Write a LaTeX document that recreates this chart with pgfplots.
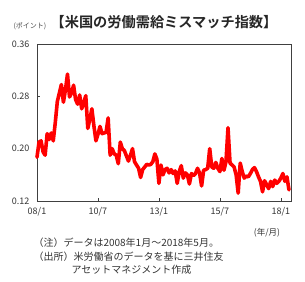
\documentclass[border=0pt]{standalone}
\usepackage{pgfplots}
\pgfplotsset{compat=1.18}
\usepackage{fontspec}
\setmainfont{Noto Sans CJK JP}
\newfontfamily\cjk{Noto Sans CJK JP}
\newfontfamily\cjkb{Noto Sans CJK JP Bold}
\begin{document}
\begin{tikzpicture}
\useasboundingbox (-37pt,-80pt) rectangle (268pt,201pt);
\begin{axis}[
  at={(0,0)}, anchor=south west,
  scale only axis, width=254pt, height=157pt,
  xmin=0, xmax=125, ymin=0.12, ymax=0.36,
  xtick={0,30,60,90,120},
  xticklabels={08/1,10/7,13/1,15/7,18/1},
  ytick={0.12,0.20,0.28,0.36},
  yticklabels={0.12,0.20,0.28,0.36},
  tick align=inside,
  xtick pos=bottom, ytick pos=left,
  major tick length=3pt,
  axis line style={draw=black!75, line width=0.8pt},
  tick style={draw=black!75, line width=0.6pt},
  tick label style={font=\fontsize{9}{10}\selectfont, text=black!80},
  /pgf/number format/assume math mode=true,
  yticklabel style={xshift=-4pt},
  xticklabel style={yshift=-3pt},
  clip=false,
]
\addplot[red, line width=3.6pt, line join=round, line cap=round] table[row sep=\\] {
x y\\
0 0.187\\ 1 0.210\\ 2 0.212\\ 3 0.195\\ 4 0.190\\ 5 0.223\\ 6 0.214\\ 7 0.224\\ 8 0.212\\ 9 0.240\\
10 0.272\\ 11 0.285\\ 12 0.298\\ 13 0.271\\ 14 0.290\\ 15 0.314\\ 16 0.279\\ 17 0.285\\ 18 0.297\\ 19 0.275\\
20 0.268\\ 21 0.282\\ 22 0.261\\ 23 0.270\\ 24 0.281\\ 25 0.231\\ 26 0.245\\ 27 0.261\\ 28 0.235\\ 29 0.212\\
30 0.222\\ 31 0.234\\ 32 0.223\\ 33 0.224\\ 34 0.225\\ 35 0.247\\ 36 0.190\\ 37 0.200\\ 38 0.192\\ 39 0.190\\
40 0.177\\ 41 0.210\\ 42 0.200\\ 43 0.197\\ 44 0.189\\ 45 0.181\\ 46 0.190\\ 47 0.200\\ 48 0.180\\ 49 0.175\\
50 0.170\\ 51 0.156\\ 52 0.168\\ 53 0.172\\ 54 0.176\\ 55 0.175\\ 56 0.176\\ 57 0.180\\ 58 0.192\\ 59 0.184\\
60 0.147\\ 61 0.175\\ 62 0.160\\ 63 0.168\\ 64 0.170\\ 65 0.163\\ 66 0.168\\ 67 0.162\\ 68 0.166\\ 69 0.147\\
70 0.165\\ 71 0.174\\ 72 0.155\\ 73 0.163\\ 74 0.160\\ 75 0.146\\ 76 0.162\\ 77 0.159\\ 78 0.162\\ 79 0.170\\
80 0.163\\ 81 0.143\\ 82 0.167\\ 83 0.168\\ 84 0.170\\ 85 0.200\\ 86 0.172\\ 87 0.170\\ 88 0.179\\ 89 0.170\\
90 0.165\\ 91 0.185\\ 92 0.167\\ 93 0.180\\ 94 0.232\\ 95 0.178\\ 96 0.175\\ 97 0.172\\ 98 0.160\\ 99 0.132\\
100 0.178\\ 101 0.165\\ 102 0.155\\ 103 0.158\\ 104 0.157\\ 105 0.162\\ 106 0.168\\ 107 0.171\\ 108 0.165\\ 109 0.157\\
110 0.150\\ 111 0.134\\ 112 0.151\\ 113 0.145\\ 114 0.139\\ 115 0.150\\ 116 0.142\\ 117 0.152\\ 118 0.147\\ 119 0.150\\
120 0.155\\ 121 0.162\\ 122 0.150\\ 123 0.157\\ 124 0.137\\
};
\end{axis}
\node[font=\cjkb\fontsize{14.2}{15}\selectfont, text=black!85] at (127pt,179pt) {【米国の労働需給ミスマッチ指数】};
\node[font=\cjk\fontsize{7}{8}\selectfont, text=black!70] at (-7pt,175pt) {(ポイント)};
\node[font=\cjk\fontsize{8.5}{9}\selectfont, text=black!80] at (230pt,-32pt) {(年/月)};
\node[font=\cjk\fontsize{10}{11}\selectfont, text=black!80, anchor=west] at (-7pt,-42pt) {（注）データは2008年1月～2018年5月。};
\node[font=\cjk\fontsize{10}{11}\selectfont, text=black!80, anchor=west] at (-7pt,-56pt) {（出所）米労働省のデータを基に三井住友};
\node[font=\cjk\fontsize{10}{11}\selectfont, text=black!80, anchor=west] at (31pt,-69pt) {アセットマネジメント作成};
\end{tikzpicture}
\end{document}
